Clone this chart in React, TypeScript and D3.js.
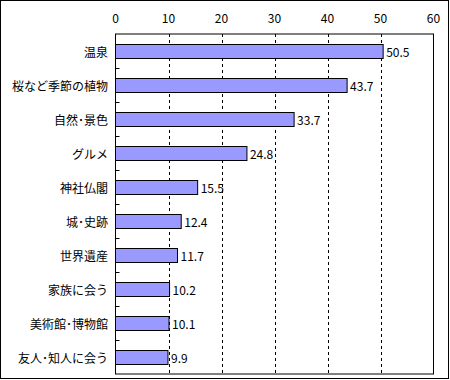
import React from "react";
import * as d3 from "d3";

const categories = ["温泉", "桜など季節の植物", "自然･景色", "グルメ", "神社仏閣", "城･史跡", "世界遺産", "家族に会う", "美術館･博物館", "友人･知人に会う"];
const values = [50.5, 43.7, 33.7, 24.8, 15.5, 12.4, 11.7, 10.2, 10.1, 9.9];
const ticks = [0, 10, 20, 30, 40, 50, 60];

export default function App() {
  const W = 450, H = 380;
  const left = 115.5, right = 433.5, top = 34, bottom = 374;
  const x = d3.scaleLinear().domain([0, 60]).range([left, right]);
  const y = d3.scaleBand().domain(categories).range([top, bottom]).paddingInner(0.6).paddingOuter(0.3);
  const band = d3.scaleBand().domain(categories).range([top, bottom]);
  const font = "'Noto Sans CJK JP', sans-serif";
  return (
    <svg width={W} height={H} style={{ position: "absolute", left: 0, top: 0 }} fontFamily={font}>
      <rect x={0.5} y={0.5} width={448} height={378} fill="white" stroke="black" strokeWidth={1} />
      <rect x={left} y={top} width={right - left} height={bottom - top} fill="white" stroke="none" />
      {ticks.filter(t => t > 0 && t < 60).map(t => (
        <line key={t} x1={Math.round(x(t)) + 0.5} x2={Math.round(x(t)) + 0.5} y1={top} y2={bottom} stroke="black" strokeDasharray="3,3" />
      ))}
      {categories.slice(1).map(c => (
        <line key={c} x1={left} x2={left + 4} y1={Math.round(band(c)!) + 0.5} y2={Math.round(band(c)!) + 0.5} stroke="black" />
      ))}
      {categories.map((c, i) => (
        <g key={c}>
          <rect x={left} y={Math.round(y(c)!) + 0.5} width={x(values[i]) - left} height={Math.round(y.bandwidth())} fill="#9999FF" stroke="black" strokeWidth={1} />
          <text x={x(values[i]) + 3} y={y(c)! + y.bandwidth() / 2} dominantBaseline="central" fontSize={12} fill="black">{values[i].toFixed(1)}</text>
          <text x={108} y={band(c)! + band.bandwidth() / 2} dominantBaseline="central" textAnchor="end" fontSize={12} fill="black">{c}</text>
        </g>
      ))}
      <rect x={left} y={top} width={right - left} height={bottom - top} fill="none" stroke="black" strokeWidth={1} />
      {ticks.map(t => (
        <text key={t} x={x(t)} y={17} textAnchor="middle" dominantBaseline="central" fontSize={12} fill="black">{t}</text>
      ))}
    </svg>
  );
}
